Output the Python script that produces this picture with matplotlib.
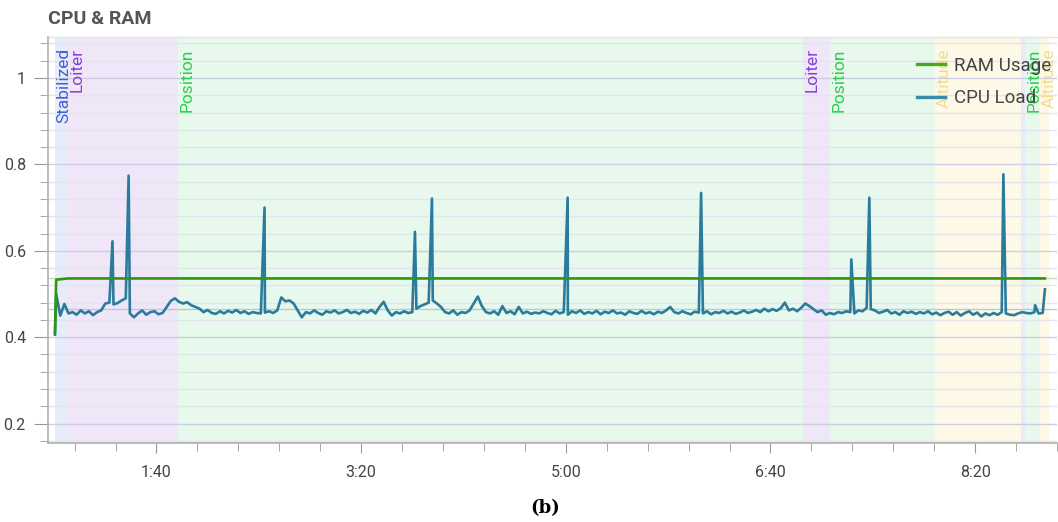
import numpy as np
import matplotlib
matplotlib.use("Agg")
import matplotlib.pyplot as plt
from matplotlib.ticker import MultipleLocator, FuncFormatter
from matplotlib.lines import Line2D
from matplotlib.transforms import blended_transform_factory, offset_copy

# flight modes: (name, start s, end s)
mode_names = ["Stabilized", "Loiter", "Position", "Loiter", "Position",
              "Altitude", None, "Position", "Altitude"]
mode_start = [50.4, 56.7, 110.4, 415.8, 429.2, 480.4, 522.5, 524.4, 531.9]
mode_end = [56.7, 110.4, 415.8, 429.2, 480.4, 522.5, 524.4, 531.9, 536.0]
mode_bg = {"Stabilized": "#e6ecfa", "Loiter": "#efe6f8",
           "Position": "#e7f8ed", "Altitude": "#fdf9e6", None: "#ebeaf8"}
mode_fg = {"Stabilized": "#3f5fdc", "Loiter": "#8a3fd8",
           "Position": "#28d04a", "Altitude": "#f0de90"}

# RAM usage
ram_time = [50.4, 51.0, 56.7, 534.1]
ram_usage = [0.41, 0.533, 0.536, 0.536]

# CPU load, sampled every 2 s from t=51
cpu_time = np.arange(51, 535, 2)
cpu_load = [
    0.500, 0.450, 0.477, 0.455, 0.458, 0.452, 0.462, 0.455, 0.460, 0.451,  # 51
    0.458, 0.462, 0.478, 0.480, 0.476, 0.479, 0.485, 0.490, 0.455, 0.446,  # 71
    0.455, 0.462, 0.452, 0.458, 0.460, 0.453, 0.456, 0.470, 0.484, 0.490,  # 91
    0.482, 0.478, 0.481, 0.474, 0.470, 0.466, 0.458, 0.463, 0.456, 0.454,  # 111
    0.460, 0.455, 0.461, 0.457, 0.463, 0.456, 0.460, 0.454, 0.458, 0.456,  # 131
    0.455, 0.457, 0.460, 0.456, 0.462, 0.492, 0.483, 0.485, 0.478, 0.462,  # 151
    0.446, 0.458, 0.455, 0.462, 0.456, 0.452, 0.460, 0.457, 0.462, 0.455,  # 171
    0.458, 0.463, 0.456, 0.459, 0.454, 0.461, 0.457, 0.463, 0.455, 0.470,  # 191
    0.482, 0.462, 0.450, 0.458, 0.455, 0.460, 0.456, 0.458, 0.466, 0.472,  # 211
    0.476, 0.480, 0.485, 0.478, 0.470, 0.458, 0.455, 0.462, 0.452, 0.458,  # 231
    0.456, 0.462, 0.478, 0.494, 0.472, 0.458, 0.455, 0.460, 0.452, 0.472,  # 251
    0.456, 0.460, 0.453, 0.470, 0.455, 0.459, 0.454, 0.457, 0.455, 0.460,  # 271
    0.456, 0.453, 0.461, 0.455, 0.458, 0.452, 0.460, 0.456, 0.462, 0.454,  # 291
    0.458, 0.455, 0.461, 0.453, 0.459, 0.456, 0.462, 0.455, 0.457, 0.452,  # 311
    0.460, 0.456, 0.454, 0.461, 0.455, 0.458, 0.453, 0.459, 0.456, 0.462,  # 331
    0.470, 0.458, 0.455, 0.460, 0.456, 0.453, 0.459, 0.457, 0.455, 0.460,  # 351
    0.453, 0.458, 0.456, 0.461, 0.455, 0.459, 0.454, 0.457, 0.462, 0.456,  # 371
    0.459, 0.463, 0.458, 0.466, 0.460, 0.465, 0.461, 0.467, 0.480, 0.462,  # 391
    0.466, 0.460, 0.468, 0.478, 0.472, 0.465, 0.458, 0.462, 0.452, 0.456,  # 411
    0.453, 0.458, 0.456, 0.460, 0.458, 0.455, 0.462, 0.460, 0.468, 0.465,  # 431
    0.462, 0.456, 0.459, 0.463, 0.455, 0.458, 0.452, 0.460, 0.456, 0.459,  # 451
    0.454, 0.458, 0.455, 0.460, 0.453, 0.457, 0.451, 0.456, 0.459, 0.452,  # 471
    0.458, 0.450, 0.456, 0.460, 0.452, 0.457, 0.448, 0.455, 0.451, 0.456,  # 491
    0.452, 0.458, 0.455, 0.452, 0.451, 0.455, 0.458, 0.456, 0.455, 0.458,  # 511
    0.455, 0.456,                                                          # 531
]
# spikes and end points
spike_time = [50.4, 78.5, 86.4, 152.8, 226.3, 234.6, 300.9, 366.1,
              439.5, 448.3, 513.8, 529.3, 534.1]
spike_load = [0.406, 0.622, 0.774, 0.700, 0.644, 0.721, 0.723, 0.734,
              0.580, 0.723, 0.777, 0.474, 0.511]

t_all = np.concatenate([cpu_time, spike_time])
v_all = np.concatenate([cpu_load, spike_load])
order = np.argsort(t_all, kind="stable")
t_all, v_all = t_all[order], v_all[order]

W, H = 1058, 522
fig = plt.figure(figsize=(W / 100, H / 100), dpi=100)
ax = fig.add_axes([48 / W, 1 - 443 / H, 1 - 49 / W, (443 - 37) / H])

for name, a, b in zip(mode_names, mode_start, mode_end):
    ax.axvspan(a, b, color=mode_bg[name], lw=0, zorder=0.1)

ax.set_axisbelow(True)
ax.yaxis.set_major_locator(MultipleLocator(0.2))
ax.yaxis.set_minor_locator(MultipleLocator(0.04))
ax.grid(which="major", axis="y", color="#cdcde6", lw=1)
ax.grid(which="minor", axis="y", color="#e4e4ee", lw=1)

ax.axhline(0.536, color="#bfe0b2", lw=1, zorder=1)
ax.axhline(0.465, color="#b4cbd8", lw=1, zorder=1)

ax.plot(t_all, v_all, color="#2b7c9c", lw=1.9, zorder=3, solid_joinstyle="round")
ax.plot(ram_time, ram_usage, color="#2e9612", lw=1.9, zorder=4)

ax.set_xlim(47, 540)
ax.set_ylim(0.155, 1.095)

ax.xaxis.set_major_locator(MultipleLocator(100))
ax.xaxis.set_minor_locator(MultipleLocator(20))
ax.xaxis.set_major_formatter(FuncFormatter(lambda t, p: "%d:%02d" % (t // 60, t % 60)))
ax.yaxis.set_major_formatter(FuncFormatter(lambda v, p: "%g" % round(v, 2)))

for s in ["top", "right"]:
    ax.spines[s].set_visible(False)
for s in ["left", "bottom"]:
    ax.spines[s].set_color("#b0b0b0")
    ax.spines[s].set_linewidth(1.2)
ax.plot([0, 1], [1, 1], transform=ax.transAxes, color="#e4e4e4", lw=1, clip_on=False)

ax.tick_params(which="major", axis="y", length=10, color="#999999", labelsize=11.5,
               labelcolor="#444444", pad=6)
ax.tick_params(which="minor", axis="y", length=6, color="#999999")
ax.tick_params(which="major", axis="x", length=7, color="#999999", labelsize=11.5,
               labelcolor="#444444", pad=9)
ax.tick_params(which="minor", axis="x", length=6, color="#999999")
for lab in ax.get_xticklabels() + ax.get_yticklabels():
    lab.set_family("Roboto")

trans = offset_copy(blended_transform_factory(ax.transData, ax.transAxes),
                    fig=fig, x=1.5, y=0, units="dots")
for name, a in zip(mode_names, mode_start):
    if name is None:
        continue
    ax.text(a, 0.972, name, rotation=90, ha="left", va="top", color=mode_fg[name],
            fontsize=12.5, family="Roboto", transform=trans, zorder=2)

handles = [Line2D([], [], color="#48a81e", lw=2.4),
           Line2D([], [], color="#3a8aa8", lw=2.4)]
fig.legend(handles, ["RAM Usage", "CPU Load"], loc="upper left",
           bbox_to_anchor=(917 / W, 1 - 57 / H), frameon=False,
           prop={"family": "Roboto", "size": 13.5}, labelcolor="#444444",
           handlelength=1.5, handletextpad=0.45, labelspacing=0.75,
           borderpad=0, borderaxespad=0)

fig.text(48 / W, 1 - 19 / H, "CPU & RAM", fontsize=14, fontweight="bold",
         color="#555555", family="Roboto", va="center", ha="left")
fig.text(545 / W, 1 - 508 / H, "(b)", fontsize=13, fontweight="bold",
         family="DejaVu Serif", va="center", ha="center")

fig.savefig("out.png", dpi=100)
